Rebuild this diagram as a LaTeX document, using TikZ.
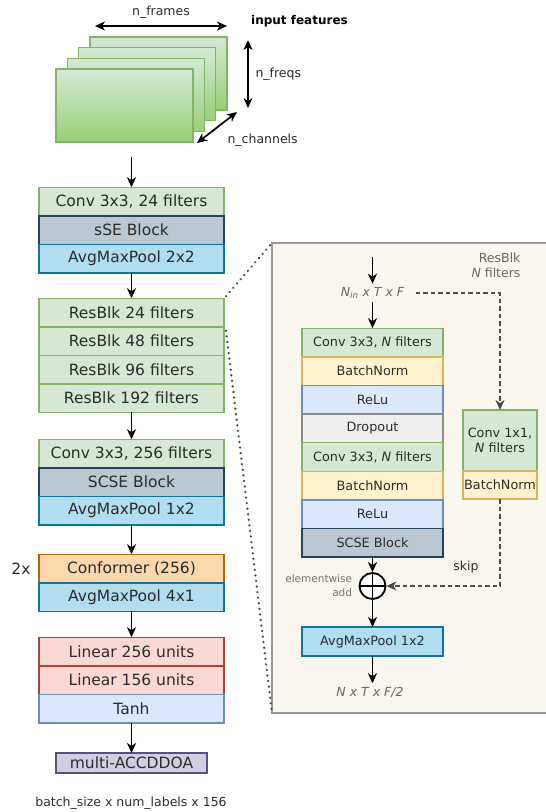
\documentclass[tikz,border=0pt]{standalone}
\usepackage{fontspec}
\setmainfont{DejaVu Sans}
\usepackage{tikz}
\usetikzlibrary{arrows.meta, positioning, shapes.geometric, calc}
\definecolor{txt}{HTML}{2B2B2B}
\definecolor{convfill}{HTML}{D5E8D4}
\definecolor{convline}{HTML}{82B366}
\definecolor{convdark}{HTML}{97D077}
\definecolor{sefill}{HTML}{BAC8D3}
\definecolor{seline}{HTML}{23445D}
\definecolor{poolfill}{HTML}{B1DDF0}
\definecolor{poolline}{HTML}{10739E}
\definecolor{cffill}{HTML}{FAD7AC}
\definecolor{cfline}{HTML}{B46504}
\definecolor{linfill}{HTML}{FAD9D5}
\definecolor{linline}{HTML}{AE4132}
\definecolor{actfill}{HTML}{DAE8FC}
\definecolor{actline}{HTML}{6C8EBF}
\definecolor{outfill}{HTML}{D0CEE2}
\definecolor{outline}{HTML}{56517E}
\definecolor{bnfill}{HTML}{FFF2CC}
\definecolor{bnline}{HTML}{D6B656}
\definecolor{dropfill}{HTML}{EEEEEE}
\definecolor{dropline}{HTML}{8A8A8A}
\definecolor{panelbg}{HTML}{F9F7ED}
\definecolor{panelline}{HTML}{999999}

\begin{document}
\begin{tikzpicture}[
    x=1pt, y=-1pt,
    node distance=0pt,
    layer/.style={rectangle, draw, line width=1.5pt, outer sep=0pt, inner sep=0pt, minimum width=185pt, minimum height=28.5pt, text=txt, font=\fontsize{15.5}{18}\selectfont},
    inlayer/.style={rectangle, draw, line width=1.4pt, outer sep=0pt, inner sep=0pt, minimum width=141pt, minimum height=28.6pt, text=txt, font=\fontsize{12.8}{15}\selectfont},
    conv/.style={fill=convfill, draw=convline},
    se/.style={fill=sefill, draw=seline},
    pool/.style={fill=poolfill, draw=poolline},
    act/.style={fill=actfill, draw=actline},
    bn/.style={fill=bnfill, draw=bnline},
    frame/.style={rectangle, draw=convline, line width=1.3pt, top color=convfill, bottom color=convdark, minimum width=137pt, minimum height=73pt},
    arrow/.style={-{Stealth[length=10pt, width=9pt, inset=3pt]}, line width=1.7pt},
    dimarrow/.style={{Stealth[length=10pt, width=9pt, inset=3pt]}-{Stealth[length=10pt, width=9pt, inset=3pt]}, line width=1.7pt},
    skipline/.style={-{Stealth[length=10pt, width=9pt, inset=3pt]}, line width=1.8pt, dash pattern=on 4.5pt off 3pt, black!70},
    zoomline/.style={line width=2.5pt, line cap=round, dash pattern=on 0.1pt off 5.5pt, black!70},
    label/.style={text=txt, font=\fontsize{12.5}{15}\selectfont}
]
\useasboundingbox (0,0) rectangle (546,812);

% Input features
\foreach \i in {3,2,1,0}
    \node[frame] (frame\i) at (124.5+11.33*\i, 105.5-10.67*\i) {};
\coordinate (fl) at (95,26);
\coordinate (fr) at (227,26);
\draw[dimarrow] (fl) -- (fr) node[midway, above=3pt, label] (nframes) {n\_frames};
\coordinate (ft) at (248,40);
\coordinate (fb) at (248,108);
\draw[dimarrow] (ft) -- (fb);
\node[label, right=4pt of $(ft)!0.5!(fb)$] (nfreqs) {n\_freqs};
\coordinate (cl) at (197,143);
\coordinate (cr) at (237,112);
\draw[dimarrow] (cl) -- (cr);
\node[label, anchor=west] (nchan) at (224,140) {n\_channels};
\node[text=black, font=\fontsize{12}{14}\selectfont\bfseries] (infeat) at (299.5,21) {input features};

% Encoder
\coordinate (inp) at (131.5,157);
\node[layer, conv] (conv1) at (131.5,201.5) {Conv 3x3, 24 filters};
\node[layer, se, below=of conv1] (sse) {sSE Block};
\node[layer, pool, below=of sse] (pool1) {AvgMaxPool 2x2};

\node[layer, conv] (res24) at (131.5,312.5) {ResBlk 24 filters};
\node[layer, conv, below=of res24] (res48) {ResBlk 48 filters};
\node[layer, conv, below=of res48] (res96) {ResBlk 96 filters};
\node[layer, conv, below=of res96] (res192) {ResBlk 192 filters};

\node[layer, conv] (conv2) at (131.5,453.5) {Conv 3x3, 256 filters};
\node[layer, se, below=of conv2] (scse) {SCSE Block};
\node[layer, pool, below=of scse] (pool2) {AvgMaxPool 1x2};

\node[layer, fill=cffill, draw=cfline] (conformer) at (131.5,568.5) {Conformer (256)};
\node[layer, pool, below=of conformer] (pool3) {AvgMaxPool 4x1};
\node[text=txt, font=\fontsize{15.5}{18}\selectfont] (rep) at (21,568.5) {2x};

\node[layer, fill=linfill, draw=linline] (lin256) at (131.5,651.5) {Linear 256 units};
\node[layer, fill=linfill, draw=linline, below=of lin256] (lin156) {Linear 156 units};
\node[layer, act, below=of lin156] (tanh) {Tanh};

\node[layer, fill=outfill, draw=outline, minimum width=151pt, minimum height=20pt] (accddoa) at (131.5,763) {multi-ACCDDOA};
\node[label] (outdims) at (131,803) {batch\_size x num\_labels x 156};

\draw[arrow] (inp) -- (conv1);
\draw[arrow] (pool1) -- (res24);
\draw[arrow] (res192) -- (conv2);
\draw[arrow] (pool2) -- (conformer);
\draw[arrow] (pool3) -- (lin256);
\draw[arrow] (tanh) -- (accddoa);

% ResBlk detail
\coordinate (pnw) at (272,243);
\coordinate (psw) at (272,713);
\fill[panelbg] (pnw) rectangle (546,713);
\draw[panelline, line width=1.6pt] (546,243) -- (pnw) -- (psw) -- (546,713);
\draw[zoomline] ([shift={(2,-2)}]res24.north east) -- (pnw);
\draw[zoomline] ([shift={(2,4)}]res48.north east) -- (psw);

\node[label, text=black!60, align=right, anchor=north east] (rbtitle) at (524,249) {ResBlk\\\textit{N} filters};

\coordinate (rin) at (372.5,257);
\node[label, text=black!60] (nin) at (372.5,293) {\textit{N\textsubscript{in} x T x F}};
\node[inlayer, conv] (rconv1) at (372.5,342.5) {Conv 3x3, \textit{N} filters};
\node[inlayer, bn, below=of rconv1] (rbn1) {BatchNorm};
\node[inlayer, act, below=of rbn1] (rrelu1) {ReLu};
\node[inlayer, fill=dropfill, draw=dropline, below=of rrelu1] (rdrop) {Dropout};
\node[inlayer, conv, below=of rdrop] (rconv2) {Conv 3x3, \textit{N} filters};
\node[inlayer, bn, below=of rconv2] (rbn2) {BatchNorm};
\node[inlayer, act, below=of rbn2] (rrelu2) {ReLu};
\node[inlayer, se, below=of rrelu2] (rscse) {SCSE Block};

\node[circle, draw, fill=white, line width=1.8pt, minimum size=26pt, inner sep=0pt] (add) at (372.5,586) {};
\draw[line width=1.8pt] (add.north) -- (add.south) (add.west) -- (add.east);
\node[text=black!55, align=right, font=\fontsize{10.5}{14}\selectfont, left=3pt of add] (addlbl) {elementwise\\add};

\node[inlayer, pool, minimum height=29pt] (rpool) at (372.5,641.5) {AvgMaxPool 1x2};
\node[label, text=black!60] (nout) at (370,692) {\textit{N x T x F/2}};

\node[inlayer, conv, minimum width=74pt, minimum height=61pt, align=center] (sconv) at (500,440.5) {Conv 1x1,\\\textit{N} filters};
\node[inlayer, bn, minimum width=74pt, minimum height=28pt, below=of sconv] (sbn) {BatchNorm};

\draw[arrow] (rin) -- (nin);
\draw[arrow] (nin) -- (rconv1);
\draw[skipline] ([xshift=8pt]nin.east) -| (sconv.north);
\draw[skipline] (sbn.south) |- (add.east);
\node[label] (skiplbl) at (466,567) {skip};
\draw[arrow] (rscse) -- (add);
\draw[arrow] (add) -- (rpool);
\draw[arrow] (rpool) -- (rpool |- nout.north);

\end{tikzpicture}
\end{document}
